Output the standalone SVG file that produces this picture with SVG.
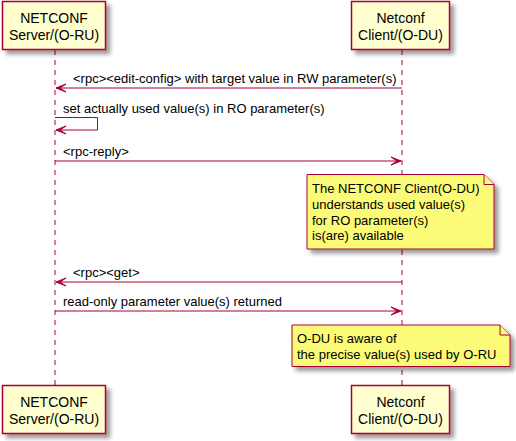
<svg xmlns="http://www.w3.org/2000/svg" width="516" height="441" viewBox="0 0 516 441">
<defs>
<filter id="sh" x="-10%" y="-10%" width="130%" height="140%">
<feGaussianBlur in="SourceAlpha" stdDeviation="2"/>
<feColorMatrix type="matrix" values="0 0 0 0 0 0 0 0 0 0 0 0 0 0 0 0 0 0 0.4 0"/>
<feOffset dx="4" dy="4" result="b"/>
<feMerge><feMergeNode in="b"/><feMergeNode in="SourceGraphic"/></feMerge>
</filter>
<style>
.box{fill:#FEFECE;stroke:#A80036;stroke-width:1.5}
.note{fill:#FBFB77;stroke:#A80036;stroke-width:1}
.life{stroke:#A80036;stroke-width:1;stroke-dasharray:5,5;fill:none}
.msg{stroke:#A80036;stroke-width:1;fill:none}
.head{fill:#A80036;stroke:#A80036;stroke-width:1}
.pt{font-family:"Liberation Sans",Arial,sans-serif;font-size:14px;fill:#000;text-anchor:middle}
.t{font-family:"Liberation Sans",Arial,sans-serif;font-size:13px;fill:#000}
</style>
</defs>
<rect width="516" height="441" fill="#FFFFFF"/>
<g id="lifelines">
<line class="life" x1="55" y1="50" x2="55" y2="385"/>
<line class="life" x1="402" y1="50" x2="402" y2="385"/>
</g>
<g id="server-top">
<rect class="box" filter="url(#sh)" x="2.5" y="1.5" width="103" height="48"/>
<text class="pt" x="54" y="23">NETCONF</text>
<text class="pt" x="54" y="40">Server/(O-RU)</text>
</g>
<g id="client-top">
<rect class="box" filter="url(#sh)" x="351.5" y="1.5" width="98" height="48"/>
<text class="pt" x="400.5" y="23">Netconf</text>
<text class="pt" x="400.5" y="40">Client/(O-DU)</text>
</g>
<g id="server-bottom">
<rect class="box" filter="url(#sh)" x="2.5" y="385.5" width="103" height="48"/>
<text class="pt" x="54" y="407">NETCONF</text>
<text class="pt" x="54" y="424">Server/(O-RU)</text>
</g>
<g id="client-bottom">
<rect class="box" filter="url(#sh)" x="351.5" y="385.5" width="98" height="48"/>
<text class="pt" x="400.5" y="407">Netconf</text>
<text class="pt" x="400.5" y="424">Client/(O-DU)</text>
</g>
<g id="connectors">
<line class="msg" x1="56" y1="88" x2="402" y2="88"/>
<polygon class="head" points="56,88 66,84 60,88 66,92"/>
<text class="t" x="73" y="83">&lt;rpc&gt;&lt;edit-config&gt; with target value in RW parameter(s)</text>

<polyline class="msg" points="55,117.5 97.5,117.5 97.5,130 56,130"/>
<polygon class="head" points="56,130 66,126 60,130 66,134"/>
<text class="t" x="63" y="113">set actually used value(s) in RO parameter(s)</text>

<line class="msg" x1="55" y1="161" x2="401" y2="161"/>
<polygon class="head" points="401,161 391,157 397,161 391,165"/>
<text class="t" x="63" y="156">&lt;rpc-reply&gt;</text>

<line class="msg" x1="56" y1="282" x2="402" y2="282"/>
<polygon class="head" points="56,282 66,278 60,282 66,286"/>
<text class="t" x="73" y="277">&lt;rpc&gt;&lt;get&gt;</text>

<line class="msg" x1="55" y1="311" x2="401" y2="311"/>
<polygon class="head" points="401,311 391,307 397,311 391,315"/>
<text class="t" x="63" y="306">read-only parameter value(s) returned</text>
</g>
<g id="note1">
<path class="note" filter="url(#sh)" d="M307,174.5 L484,174.5 L494,184.5 L494,249 L307,249 Z"/>
<path class="note" d="M484,174.5 L484,184.5 L494,184.5"/>
<text class="t" x="312" y="193">The NETCONF Client(O-DU)</text>
<text class="t" x="312" y="209">understands used value(s)</text>
<text class="t" x="312" y="224.5">for RO parameter(s)</text>
<text class="t" x="312" y="240">is(are) available</text>
</g>
<g id="note2">
<path class="note" filter="url(#sh)" d="M292,325 L500,325 L510,335 L510,366.5 L292,366.5 Z"/>
<path class="note" d="M500,325 L500,335 L510,335"/>
<text class="t" x="297" y="343">O-DU is aware of</text>
<text class="t" x="297" y="358.5">the precise value(s) used by O-RU</text>
</g>
</svg>
